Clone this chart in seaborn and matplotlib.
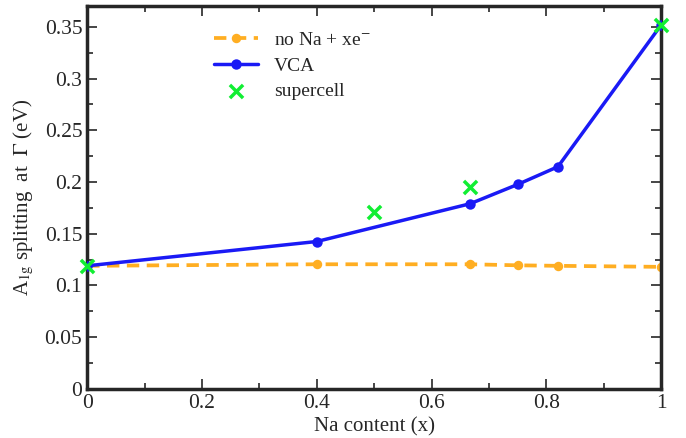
import numpy as np
import pandas as pd
import seaborn as sns
import matplotlib
matplotlib.use("Agg")
import matplotlib.pyplot as plt
from matplotlib.ticker import MultipleLocator, FormatStrFormatter

# ── Data
x_noNa = [0.0, 0.4, 0.667, 0.75, 0.82, 1.0]
y_noNa = [0.119, 0.1205, 0.1205, 0.1195, 0.119, 0.118]

x_vca = [0.0, 0.4, 0.667, 0.75, 0.82, 1.0]
y_vca = [0.119, 0.1425, 0.179, 0.1977, 0.2148, 0.352]

x_super = [0.0, 0.5, 0.667, 1.0]
y_super = [0.119, 0.171, 0.195, 0.352]

# ── Style
sns.set_style("ticks")
plt.rcParams["font.family"] = ["Liberation Serif", "DejaVu Serif"]
plt.rcParams["mathtext.fontset"] = "stix"

fig = plt.figure(figsize=(6.86, 4.38), dpi=100)
ax = fig.add_axes([0.127, 0.112, 0.837, 0.874])

df_noNa = pd.DataFrame({"x": x_noNa, "y": y_noNa})
df_vca = pd.DataFrame({"x": x_vca, "y": y_vca})
df_super = pd.DataFrame({"x": x_super, "y": y_super})

sns.lineplot(data=df_noNa, x="x", y="y", ax=ax, color="#FFAE22", linewidth=2.7,
             linestyle=(0, (3.3, 2.0)), marker="o", markersize=6.8, markeredgewidth=0,
             label="no Na + xe$^{-}$", zorder=2)
sns.lineplot(data=df_vca, x="x", y="y", ax=ax, color="#1A1AF5", linewidth=2.5,
             marker="o", markersize=7.5, markeredgewidth=0, label="VCA", zorder=3)
sns.scatterplot(data=df_super, x="x", y="y", ax=ax, color="#11EE33", marker="x",
                s=90, linewidth=2.5, label="supercell", zorder=4, clip_on=False)

ax.set_xlim(0, 1)
ax.set_ylim(0, 0.37)
ax.xaxis.set_major_locator(MultipleLocator(0.2))
ax.xaxis.set_minor_locator(MultipleLocator(0.1))
ax.yaxis.set_major_locator(MultipleLocator(0.05))
ax.yaxis.set_minor_locator(MultipleLocator(0.025))
ax.xaxis.set_major_formatter(FormatStrFormatter("%g"))
ax.yaxis.set_major_formatter(FormatStrFormatter("%g"))

ax.tick_params(which="both", direction="in", top=True, right=True, width=1.2,
               labelsize=15.5)
ax.tick_params(which="major", length=7)
ax.tick_params(which="minor", length=4)
for s in ax.spines.values():
    s.set_linewidth(2.5)
    s.set_visible(True)

ax.set_xlabel("Na content (x)", fontsize=15, labelpad=3)
ax.set_ylabel("A$_{\\mathrm{1g}}$ splitting  at  $\\Gamma$ (eV)", fontsize=15, labelpad=6)

leg = ax.legend(loc="upper left", bbox_to_anchor=(0.19, 0.98), frameon=False,
                fontsize=14, handlelength=2.3, handletextpad=0.8, labelspacing=0.42)

fig.savefig("out.png", dpi=100)
